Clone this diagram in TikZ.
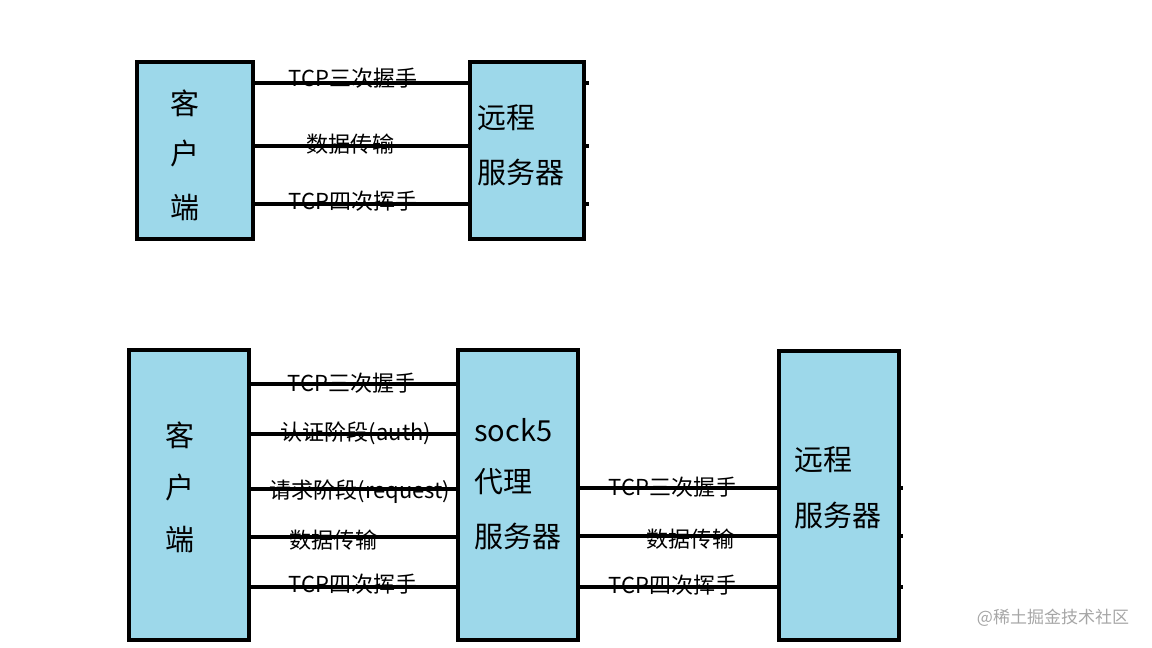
\documentclass[tikz,border=0pt]{standalone}
\usepackage{fontspec}
\setmainfont{Noto Sans CJK SC}
\begin{document}
\begin{tikzpicture}[x=1pt,y=-1pt,
  box/.style={draw=black,line width=3.5pt,fill=boxblue,inner sep=0pt},
  conn/.style={line width=4pt,draw=black},
  lab/.style={font=\fontsize{22}{24}\selectfont,inner sep=0pt},
  big/.style={font=\fontsize{29}{31}\selectfont,inner sep=0pt,align=left}]
\definecolor{boxblue}{HTML}{9DD8EA}
\useasboundingbox (0,0) rectangle (1152,648);
% top lines
\foreach \y in {83,146,204}{\draw[conn] (253,\y) -- (589,\y);}
\node[box,minimum width=116pt,minimum height=177pt] (c1) at (195,150.5) {};
\node[box,minimum width=114pt,minimum height=177pt] (r1) at (527,150.5) {};
\node[big] (c1a) at (185,103) {客};
\node[big] (c1b) at (185,153) {户};
\node[big] (c1c) at (185,208) {端};
\node[big,anchor=west] (r1a) at (477,118) {远程};
\node[big,anchor=west] (r1b) at (477,172) {服务器};
\node[lab] (t1) at (353,78) {TCP三次握手};
\node[lab] (t2) at (350,144) {数据传输};
\node[lab] (t3) at (353,201) {TCP四次挥手};
% bottom lines
\foreach \y in {384,434,489,537,587}{\draw[conn] (249,\y) -- (462,\y);}
\foreach \y in {488,536,587}{\draw[conn] (578,\y) -- (903,\y);}
\node[box,minimum width=120pt,minimum height=290pt] (c2) at (189,495) {};
\node[box,minimum width=120pt,minimum height=290pt] (s2) at (518,495) {};
\node[box,minimum width=120pt,minimum height=289pt] (r2) at (839,495.5) {};
\node[big] (c2a) at (180,435) {客};
\node[big] (c2b) at (180,487) {户};
\node[big] (c2c) at (180,540) {端};
\node[big,anchor=west] (s2a) at (474,430) {sock5};
\node[big,anchor=west] (s2b) at (474,482) {代理};
\node[big,anchor=west] (s2c) at (474,536) {服务器};
\node[big,anchor=west] (r2a) at (794,460) {远程};
\node[big,anchor=west] (r2b) at (794,515) {服务器};
\node[lab] (b1) at (352,383) {TCP三次握手};
\node[lab] (b2) at (356,433) {认证阶段(auth)};
\node[lab] (b3) at (360,492) {请求阶段(request)};
\node[lab] (b4) at (333,540) {数据传输};
\node[lab] (b5) at (353,584) {TCP四次挥手};
\node[lab] (b6) at (673,487) {TCP三次握手};
\node[lab] (b7) at (690,539) {数据传输};
\node[lab] (b8) at (673,585) {TCP四次挥手};
\node[font=\fontsize{17}{19}\selectfont,text=gray!70,inner sep=0pt] (wm) at (1053,618) {@稀土掘金技术社区};
\end{tikzpicture}
\end{document}
